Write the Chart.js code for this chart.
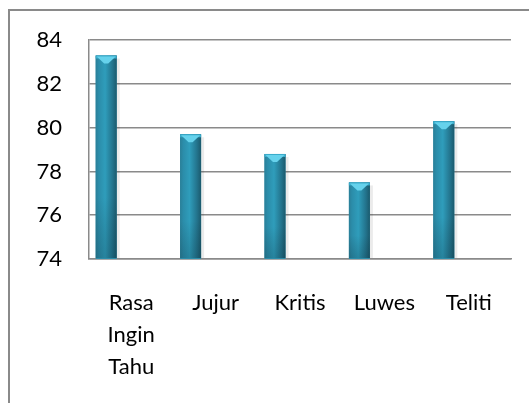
<!DOCTYPE html>
<html>
<head>
<meta charset="utf-8">
<script src="https://cdn.jsdelivr.net/npm/chart.js@4/dist/chart.umd.min.js"></script>
<style>
  html, body { margin: 0; padding: 0; background: #fff; overflow: hidden; }
  #wrap { position: relative; width: 529px; height: 403px; }
  #bingkai { position: absolute; left: 8px; top: 9px; width: 700px; height: 600px; border: 2px solid #8a8a8a; }
  #grafik { position: absolute; left: 0; top: 0; }
</style>
</head>
<body>
<div id="wrap">
  <div id="bingkai"></div>
  <canvas id="grafik" width="529" height="403"></canvas>
</div>
<script>
const kategori = [['Rasa', 'Ingin', 'Tahu'], 'Jujur', 'Kritis', 'Luwes', 'Teliti'];
const nilai = [83.3, 79.7, 78.8, 77.5, 80.3];
const kosong = [null, null, null, null, null]; // seri kosong, menggeser batang ke kiri
const yMin = 74, yMax = 84, yStep = 2;

const warnaGaris = '#8a8a8a';

// batang silinder: gradasi + tutup terang di atas
const gayaBatang = {
  id: 'gayaBatang',
  afterDatasetsDraw(chart) {
    const ctx = chart.ctx;
    const area = chart.chartArea;
    chart.getDatasetMeta(0).data.forEach(bar => {
      const x0 = bar.x - bar.width / 2, x1 = bar.x + bar.width / 2;
      const top = bar.y, base = Math.min(bar.base, area.bottom - 1), w = bar.width;
      ctx.save();
      // bayangan tipis di kanan
      ctx.fillStyle = 'rgba(0,0,0,0.08)';
      ctx.fillRect(x1, top + 3, 3, base - top - 3);
      const g = ctx.createLinearGradient(x0, 0, x1, 0);
      g.addColorStop(0, '#2a7f98');
      g.addColorStop(0.15, '#2b8daa');
      g.addColorStop(0.45, '#2f9dbb');
      g.addColorStop(0.8, '#23748d');
      g.addColorStop(1, '#1b5a6d');
      ctx.fillStyle = g;
      ctx.fillRect(x0, top, w, base - top);
      // gelap di bawah
      const gv = ctx.createLinearGradient(0, top, 0, base);
      gv.addColorStop(0, 'rgba(0,0,0,0)');
      gv.addColorStop(0.7, 'rgba(0,0,0,0)');
      gv.addColorStop(1, 'rgba(0,20,30,0.18)');
      ctx.fillStyle = gv;
      ctx.fillRect(x0, top, w, base - top);
      // tutup atas
      ctx.fillStyle = '#3aaccb';
      ctx.fillRect(x0, top, w, 3);
      ctx.beginPath();
      ctx.moveTo(x0 + 1, top + 1);
      ctx.lineTo(x1 - 1, top + 1);
      ctx.lineTo(bar.x + 2, top + 8);
      ctx.lineTo(bar.x - 2, top + 8);
      ctx.closePath();
      ctx.fillStyle = '#66d2ec';
      ctx.fill();
      ctx.restore();
    });
  }
};

new Chart(document.getElementById('grafik').getContext('2d'), {
  type: 'bar',
  data: {
    labels: kategori,
    datasets: [
      { data: nilai, backgroundColor: '#2b8daa', borderWidth: 0 },
      { data: kosong, backgroundColor: 'rgba(0,0,0,0)' }
    ]
  },
  options: {
    responsive: false,
    animation: false,
    devicePixelRatio: 1,
    categoryPercentage: 1.185,
    barPercentage: 0.42,
    layout: { padding: { left: 0, right: 18, top: 37, bottom: 0 } },
    plugins: { legend: { display: false }, tooltip: { enabled: false } },
    scales: {
      y: {
        min: yMin, max: yMax,
        ticks: { stepSize: yStep, color: '#000', padding: 27, font: { family: 'Lato', size: 22 } },
        grid: { color: warnaGaris, lineWidth: 1.5, drawTicks: false },
        border: { color: warnaGaris, width: 1.5 },
        afterFit: s => { s.width = 89; }
      },
      x: {
        ticks: { color: '#000', padding: 28, maxRotation: 0, autoSkip: false, font: { family: 'Lato', size: 22, lineHeight: 1.45 } },
        grid: { display: false, drawTicks: false },
        border: { color: warnaGaris, width: 1.5 },
        afterFit: s => { s.height = 144; }
      }
    }
  },
  plugins: [gayaBatang]
});
</script>
</body>
</html>
